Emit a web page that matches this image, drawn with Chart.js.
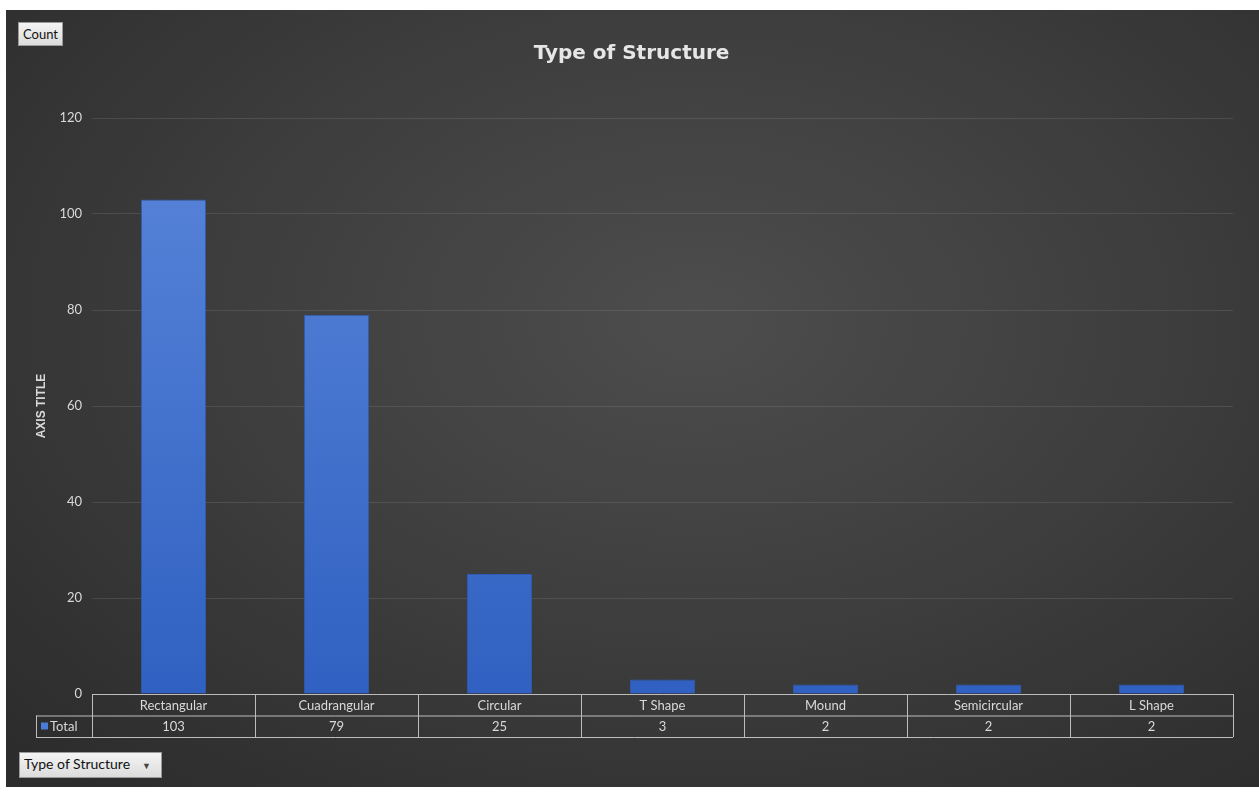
<!DOCTYPE html>
<html>
<head>
<meta charset="utf-8">
<script src="https://cdn.jsdelivr.net/npm/chart.js@4/dist/chart.umd.min.js"></script>
<style>
  html, body { margin: 0; padding: 0; background: #fff; }
  body { width: 1259px; height: 793px; position: relative; overflow: hidden; font-family: Lato, "Noto Sans", sans-serif; }
  #bg {
    position: absolute; left: 6px; top: 10px; width: 1253px; height: 777px;
    background: radial-gradient(ellipse 75% 80% at 55% 40%, #4d4d4d 0%, #3f3f3f 45%, #2c2c2c 100%);
  }
  #wrap { position: absolute; left: 0; top: 0; width: 1259px; height: 793px; }
  .btn {
    position: absolute; font-size: 13px; color: #111; line-height: 22px; padding: 0 4px;
    background: linear-gradient(#f4f4f4, #dcdcdc); border: 1px solid #9a9a9a;
  }
  #count { left: 18px; top: 22px; }
  #tos { left: 19px; top: 752px; padding-right: 10px; font-size: 14px; }
  #tos span { font-size: 9px; margin-left: 12px; color: #444; }
</style>
</head>
<body>
<div id="bg"></div>
<div id="wrap"><canvas id="chart" width="1259" height="793"></canvas></div>
<div class="btn" id="count">Count</div>
<div class="btn" id="tos">Type of Structure<span>&#9660;</span></div>
<script>
// Données
const categories = ['Rectangular', 'Cuadrangular', 'Circular', 'T Shape', 'Mound', 'Semicircular', 'L Shape'];
const totals = [103, 79, 25, 3, 2, 2, 2];
const seriesName = 'Total';

const textColor = '#d9d9d9';
const lineColor = '#bdbdbd';

// Tableau de données sous l'axe X
const dataTable = {
    id: 'dataTable',
    afterDraw(chart) {
        const { ctx, chartArea, scales: { x } } = chart;
        const top = chartArea.bottom;
        const rowH = 21.5;
        const left = chartArea.left, right = chartArea.right;
        const step = (right - left) / categories.length;
        const legendLeft = 36;
        ctx.save();
        ctx.strokeStyle = lineColor;
        ctx.lineWidth = 1;
        ctx.beginPath();
        ctx.moveTo(left, top + 0.5); ctx.lineTo(right, top + 0.5);
        ctx.moveTo(legendLeft, top + rowH + 0.5); ctx.lineTo(right, top + rowH + 0.5);
        ctx.moveTo(legendLeft, top + 2 * rowH + 0.5); ctx.lineTo(right, top + 2 * rowH + 0.5);
        ctx.moveTo(legendLeft + 0.5, top + rowH); ctx.lineTo(legendLeft + 0.5, top + 2 * rowH);
        for (let i = 0; i <= categories.length; i++) {
            const px = Math.round(left + i * step) + 0.5;
            ctx.moveTo(px, top); ctx.lineTo(px, top + 2 * rowH);
        }
        ctx.stroke();

        ctx.fillStyle = textColor;
        ctx.font = '13px Lato, "Noto Sans", sans-serif';
        ctx.textAlign = 'center';
        ctx.textBaseline = 'middle';
        categories.forEach((c, i) => {
            const cx = x.getPixelForValue(i);
            ctx.fillText(c, cx, top + rowH / 2 + 1);
            ctx.fillText(String(totals[i]), cx, top + rowH * 1.5 + 1);
        });
        // légende
        ctx.fillStyle = '#4a7bd6';
        ctx.fillRect(legendLeft + 5, top + rowH + 7, 7, 7);
        ctx.fillStyle = textColor;
        ctx.textAlign = 'left';
        ctx.fillText(seriesName, legendLeft + 14, top + rowH * 1.5 + 1);
        ctx.restore();
    }
};

new Chart(document.getElementById('chart'), {
    type: 'bar',
    data: {
        labels: categories,
        datasets: [{
            label: seriesName,
            data: totals,
            backgroundColor: (context) => {
                const { chart } = context;
                const area = chart.chartArea;
                if (!area) return '#4472c4';
                const g = chart.ctx.createLinearGradient(0, area.top, 0, area.bottom);
                g.addColorStop(0, '#5a86da');
                g.addColorStop(1, '#3061c2');
                return g;
            },
            borderColor: '#2f5bb0',
            borderWidth: 1,
            categoryPercentage: 1,
            barPercentage: 0.4
        }]
    },
    options: {
        responsive: false,
        animation: false,
        layout: { padding: { top: 0, left: 30, right: 26, bottom: 99 } },
        plugins: {
            legend: { display: false },
            tooltip: { enabled: false },
            title: {
                display: true,
                text: 'Type of Structure',
                color: '#e6e6e6',
                font: { family: '"DejaVu Sans", sans-serif', size: 20, weight: 'bold' },
                padding: { top: 42, bottom: 52 }
            }
        },
        scales: {
            x: { display: false },
            y: {
                min: 0, max: 120,
                ticks: { stepSize: 20, color: textColor, font: { family: 'Lato, "Noto Sans", sans-serif', size: 13 }, padding: 10 },
                grid: { color: 'rgba(255,255,255,0.1)', drawTicks: false },
                border: { display: false },
                title: {
                    display: true, text: 'AXIS TITLE', color: textColor,
                    font: { family: '"Liberation Sans", Arial, sans-serif', size: 12, weight: 'bold' }
                },
                afterFit(scale) { scale.width = 62; }
            }
        }
    },
    plugins: [dataTable]
});
</script>
</body>
</html>
